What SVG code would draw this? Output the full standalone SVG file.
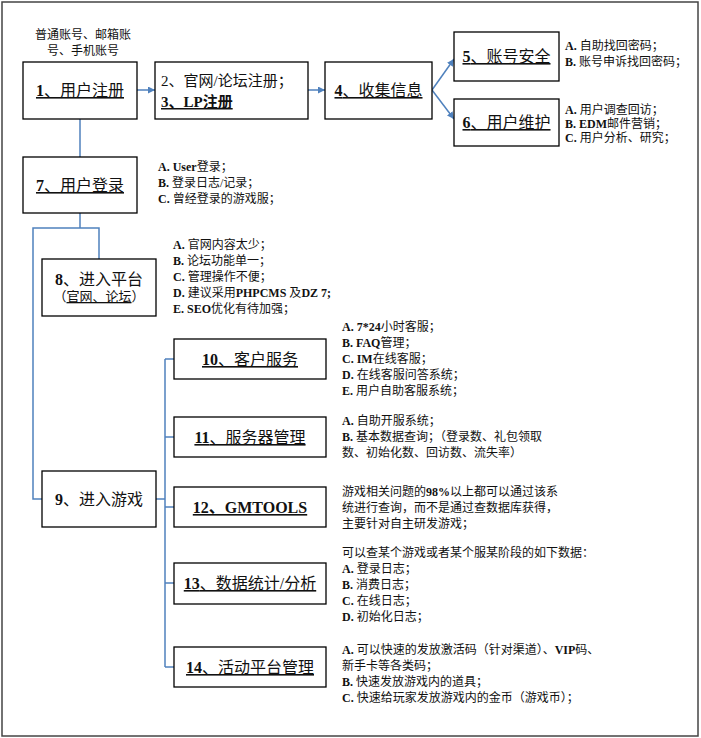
<svg xmlns="http://www.w3.org/2000/svg" width="701" height="738" viewBox="0 0 701 738">
<defs>
<style>
.box{fill:#fff;stroke:#000;stroke-width:1.3}
.c{fill:none;stroke:#4f81bd;stroke-width:1.5}
text{font-family:"Liberation Serif","Noto Sans CJK SC",serif;fill:#111}
.l{font-size:16px}
.m{font-size:15px}
.s{font-size:12px}
.b{font-weight:bold}
.u{text-decoration:underline}
.mid{text-anchor:middle}
</style>
<marker id="ah" viewBox="0 0 10 10" refX="10" refY="5" markerWidth="7" markerHeight="7" markerUnits="userSpaceOnUse" orient="auto"><path d="M0,0 L10,5 L0,10 z" fill="#4f81bd"/></marker>
</defs>
<rect width="701" height="738" fill="#fff"/>
<rect x="2" y="2" width="696" height="734" fill="none" stroke="#444" stroke-width="1.5"/>

<g id="connectors">
<line class="c" x1="137" y1="90" x2="155" y2="90" marker-end="url(#ah)"/>
<line class="c" x1="308" y1="90" x2="325" y2="90" marker-end="url(#ah)"/>
<line class="c" x1="432" y1="90" x2="454" y2="59" marker-end="url(#ah)"/>
<line class="c" x1="432" y1="90" x2="454" y2="119" marker-end="url(#ah)"/>
<line class="c" x1="80" y1="119" x2="80" y2="157"/>
<polyline class="c" points="80,213 80,228"/>
<polyline class="c" points="99,259 99,228 33,228 33,499 42,499"/>
<polyline class="c" points="156,499 165,499"/>
<line class="c" x1="165" y1="359" x2="165" y2="667"/>
<line class="c" x1="165" y1="359" x2="174" y2="359"/>
<line class="c" x1="165" y1="437" x2="174" y2="437"/>
<line class="c" x1="165" y1="507" x2="174" y2="507"/>
<line class="c" x1="165" y1="583" x2="174" y2="583"/>
<line class="c" x1="165" y1="667" x2="174" y2="667"/>
</g>

<g id="note-top">
<text class="s mid" x="83" y="39">普通账号、邮箱账</text>
<text class="s mid" x="83" y="55">号、手机账号</text>
</g>

<g id="n1">
<rect class="box" x="23" y="62" width="114" height="57"/>
<text class="l mid u" x="80" y="96"><tspan class="b">1</tspan>、用户注册</text>
</g>

<g id="n2">
<rect class="box" x="155" y="62" width="153" height="57"/>
<text class="m" x="161" y="86">2、官网/论坛注册；</text>
<text class="m b u" x="161" y="107">3、LP注册</text>
</g>

<g id="n4">
<rect class="box" x="325" y="62" width="107" height="57"/>
<text class="l mid u" x="378.5" y="96"><tspan class="b">4</tspan>、收集信息</text>
</g>

<g id="n5">
<rect class="box" x="454" y="32" width="105" height="49"/>
<text class="l mid u" x="506.5" y="62"><tspan class="b">5</tspan>、账号安全</text>
<text class="s" x="565" y="50"><tspan class="b">A.</tspan> 自助找回密码；</text>
<text class="s" x="565" y="66"><tspan class="b">B.</tspan> 账号申诉找回密码；</text>
</g>

<g id="n6">
<rect class="box" x="454" y="99" width="105" height="47"/>
<text class="l mid u" x="506.5" y="128"><tspan class="b">6</tspan>、用户维护</text>
<text class="s" x="565" y="114"><tspan class="b">A.</tspan> 用户调查回访；</text>
<text class="s" x="565" y="128"><tspan class="b">B. EDM</tspan>邮件营销；</text>
<text class="s" x="565" y="142"><tspan class="b">C.</tspan> 用户分析、研究；</text>
</g>

<g id="n7">
<rect class="box" x="23" y="157" width="114" height="56"/>
<text class="l mid u" x="80" y="191"><tspan class="b">7</tspan>、用户登录</text>
<text class="s" x="158" y="171"><tspan class="b">A. User</tspan>登录；</text>
<text class="s" x="158" y="187"><tspan class="b">B.</tspan> 登录日志/记录；</text>
<text class="s" x="158" y="203"><tspan class="b">C.</tspan> 曾经登录的游戏服；</text>
</g>

<g id="n8">
<rect class="box" x="42" y="259" width="114" height="57"/>
<text class="l mid" x="99" y="285"><tspan class="b">8</tspan>、进入平台</text>
<text class="mid" font-size="13" x="99" y="301">（<tspan style="text-decoration:underline">官网、论坛</tspan>）</text>
<text class="s" x="173" y="249"><tspan class="b">A.</tspan> 官网内容太少；</text>
<text class="s" x="173" y="265"><tspan class="b">B.</tspan> 论坛功能单一；</text>
<text class="s" x="173" y="281"><tspan class="b">C.</tspan> 管理操作不便；</text>
<text class="s" x="173" y="297"><tspan class="b">D.</tspan> 建议采用<tspan class="b">PHPCMS</tspan> 及<tspan class="b">DZ 7;</tspan></text>
<text class="s" x="173" y="313"><tspan class="b">E.  SEO</tspan>优化有待加强；</text>
</g>

<g id="n9">
<rect class="box" x="42" y="471" width="114" height="56"/>
<text class="l mid" x="99" y="505"><tspan class="b">9</tspan>、进入游戏</text>
</g>

<g id="n10">
<rect class="box" x="174" y="339" width="152" height="40"/>
<text class="l mid u" x="250" y="365"><tspan class="b">10</tspan>、客户服务</text>
<text class="s" x="342" y="331"><tspan class="b">A. 7*24</tspan>小时客服；</text>
<text class="s" x="342" y="347"><tspan class="b">B. FAQ</tspan>管理；</text>
<text class="s" x="342" y="363"><tspan class="b">C. IM</tspan>在线客服；</text>
<text class="s" x="342" y="379"><tspan class="b">D.</tspan> 在线客服问答系统；</text>
<text class="s" x="342" y="395"><tspan class="b">E.</tspan>  用户自助客服系统；</text>
</g>

<g id="n11">
<rect class="box" x="174" y="417" width="152" height="40"/>
<text class="l mid u" x="250" y="443"><tspan class="b">11</tspan>、服务器管理</text>
<text class="s" x="342" y="425"><tspan class="b">A.</tspan> 自助开服系统；</text>
<text class="s" x="342" y="441"><tspan class="b">B.</tspan> 基本数据查询；（登录数、礼包领取</text>
<text class="s" x="342" y="457">数、初始化数、回访数、流失率）</text>
</g>

<g id="n12">
<rect class="box" x="174" y="487" width="152" height="40"/>
<text class="l mid u b" x="250" y="513">12、GMTOOLS</text>
<text class="s" x="342" y="496">游戏相关问题的<tspan class="b">98%</tspan>以上都可以通过该系</text>
<text class="s" x="342" y="512">统进行查询，而不是通过查数据库获得，</text>
<text class="s" x="342" y="528">主要针对自主研发游戏；</text>
</g>

<g id="n13">
<rect class="box" x="174" y="563" width="152" height="41"/>
<text class="l mid u" x="250" y="589"><tspan class="b">13</tspan>、数据统计/分析</text>
<text class="s" x="342" y="557">可以查某个游戏或者某个服某阶段的如下数据：</text>
<text class="s" x="342" y="573"><tspan class="b">A.</tspan> 登录日志；</text>
<text class="s" x="342" y="589"><tspan class="b">B.</tspan> 消费日志；</text>
<text class="s" x="342" y="605"><tspan class="b">C.</tspan> 在线日志；</text>
<text class="s" x="342" y="621"><tspan class="b">D.</tspan>  初始化日志；</text>
</g>

<g id="n14">
<rect class="box" x="174" y="647" width="152" height="40"/>
<text class="l mid u" x="250" y="673"><tspan class="b">14</tspan>、活动平台管理</text>
<text class="s" x="342" y="654"><tspan class="b">A.</tspan> 可以快速的发放激活码（针对渠道）、<tspan class="b">VIP</tspan>码、</text>
<text class="s" x="342" y="670">新手卡等各类码；</text>
<text class="s" x="342" y="686"><tspan class="b">B.</tspan> 快速发放游戏内的道具；</text>
<text class="s" x="342" y="702"><tspan class="b">C.</tspan> 快速给玩家发放游戏内的金币（游戏币）；</text>
</g>
</svg>
